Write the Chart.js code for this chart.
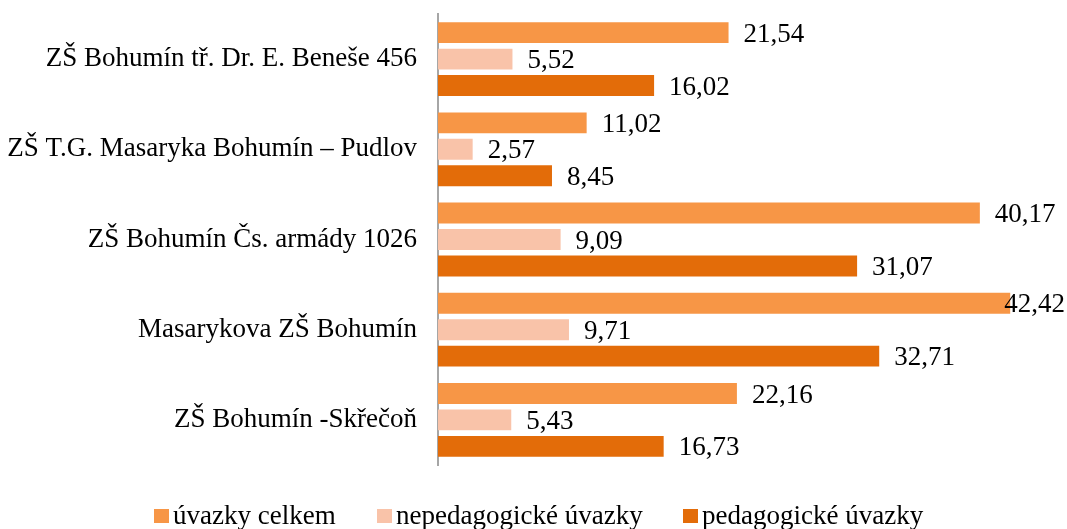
<!DOCTYPE html>
<html>
<head>
<meta charset="utf-8">
<script src="https://cdn.jsdelivr.net/npm/chart.js@4.4.1/dist/chart.umd.min.js"></script>
<style>
  html, body { margin:0; padding:0; background:#fff; }
  #wrap { position:relative; width:1067px; height:529px; overflow:hidden; }
  #c { position:absolute; left:0; top:0; }
  #legend { position:absolute; left:0; top:500px; width:1067px; font-family:"Liberation Serif","Times New Roman",serif; font-size:27px; color:#000; }
  .item { position:absolute; top:0; white-space:nowrap; line-height:30px; }
  .box { display:inline-block; width:15px; height:14px; margin-right:4px; vertical-align:1px; }
</style>
</head>
<body>
<div id="wrap">
  <canvas id="c" width="1067" height="529"></canvas>
  <div id="legend"></div>
</div>
<script>
const categories = [
  "ZŠ Bohumín tř. Dr. E. Beneše 456",
  "ZŠ T.G. Masaryka Bohumín – Pudlov",
  "ZŠ Bohumín Čs. armády 1026",
  "Masarykova ZŠ Bohumín",
  "ZŠ Bohumín -Skřečoň"
];
const seriesNames = ["úvazky celkem", "nepedagogické úvazky", "pedagogické úvazky"];
const uvazkyCelkem = [21.54, 11.02, 40.17, 42.42, 22.16];
const nepedagogicke = [5.52, 2.57, 9.09, 9.71, 5.43];
const pedagogicke = [16.02, 8.45, 31.07, 32.71, 16.73];
const colors = ["#F79646", "#F9C3A9", "#E36C09"];
const legendX = [154, 377, 683];

const FONT = '"Liberation Serif", "Times New Roman", serif';

const valueLabels = {
  id: 'valueLabels',
  afterDatasetsDraw(chart) {
    const ctx = chart.ctx;
    ctx.save();
    ctx.font = '27px ' + FONT;
    ctx.fillStyle = '#000';
    ctx.textBaseline = 'middle';
    ctx.textAlign = 'left';
    chart.data.datasets.forEach((ds, di) => {
      const meta = chart.getDatasetMeta(di);
      meta.data.forEach((bar, i) => {
        const txt = ds.data[i].toFixed(2).replace('.', ',');
        const w = ctx.measureText(txt).width;
        let x = bar.x + 15;
        if (x + w > chart.width - 2) x = chart.width - 2 - w;
        ctx.fillText(txt, x, bar.y + 2);
      });
    });
    ctx.restore();
  }
};

const seriesData = [uvazkyCelkem, nepedagogicke, pedagogicke];

new Chart(document.getElementById('c'), {
  type: 'bar',
  data: {
    labels: categories,
    datasets: seriesData.map((d, i) => ({
      label: seriesNames[i],
      data: d,
      backgroundColor: colors[i],
      borderWidth: 0,
      barPercentage: 0.79,
      categoryPercentage: 0.88
    }))
  },
  options: {
    indexAxis: 'y',
    responsive: false,
    animation: false,
    devicePixelRatio: 1,
    layout: { padding: { top: 14, bottom: 64, right: 22, left: 0 } },
    plugins: { legend: { display: false }, tooltip: { enabled: false } },
    scales: {
      x: {
        display: false,
        min: 0,
        max: 45
      },
      y: {
        afterFit(scale) { scale.width = 438; scale.paddingTop = 0; scale.paddingBottom = 0; },
        grid: { display: false, drawTicks: false },
        border: { display: true, color: '#A6A6A6', width: 2 },
        ticks: {
          padding: 21,
          color: '#000',
          font: { family: FONT, size: 27 }
        }
      }
    }
  },
  plugins: [valueLabels]
});

const lg = document.getElementById('legend');
seriesNames.forEach((n, i) => {
  const it = document.createElement('div');
  it.className = 'item';
  it.style.left = legendX[i] + 'px';
  const b = document.createElement('span');
  b.className = 'box';
  b.style.background = colors[i];
  it.appendChild(b);
  it.appendChild(document.createTextNode(n));
  lg.appendChild(it);
});
</script>
</body>
</html>
